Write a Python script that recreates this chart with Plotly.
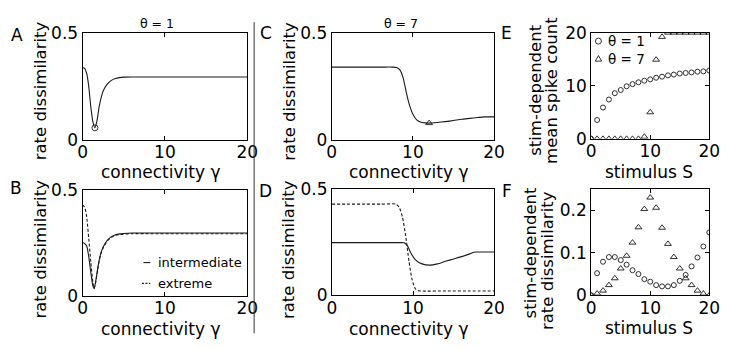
import plotly.graph_objects as go

W, H = 732, 348
FONT = "DejaVu Sans"

# ---------------- data ----------------
gamma_A = [0, 0.25, 0.5, 0.75, 1.0, 1.25, 1.5, 1.75, 2.0, 2.25, 2.5, 3.0, 3.5, 4.0, 4.5, 5.0, 6.0, 8.0, 12.0, 16.0, 20.0]
diss_A = [0.338, 0.334, 0.31, 0.25, 0.155, 0.085, 0.056, 0.088, 0.152, 0.196, 0.228, 0.26, 0.278, 0.287, 0.291, 0.293, 0.294, 0.294, 0.294, 0.294, 0.294]
min_A_gamma = [1.5]
min_A_diss = [0.056]

gamma_B = [0, 0.25, 0.5, 0.75, 1.0, 1.25, 1.4, 1.6, 1.8, 2.0, 2.25, 2.5, 3.0, 3.5, 4.0, 4.5, 5.0, 6.0, 8.0, 12.0, 16.0, 20.0]
inter_B = [0.252, 0.246, 0.235, 0.185, 0.11, 0.048, 0.033, 0.07, 0.12, 0.165, 0.205, 0.23, 0.262, 0.279, 0.288, 0.292, 0.294, 0.296, 0.296, 0.296, 0.296, 0.296]
extreme_B = [0.429, 0.418, 0.372, 0.27, 0.16, 0.065, 0.035, 0.065, 0.115, 0.16, 0.2, 0.226, 0.258, 0.276, 0.285, 0.289, 0.291, 0.293, 0.293, 0.293, 0.293, 0.293]

gamma_C = [0, 2, 4, 6, 7.5, 8.0, 8.4, 8.8, 9.2, 9.6, 10.0, 10.5, 11.0, 11.5, 12.0, 13.0, 14.0, 15.0, 16.0, 17.0, 18.0, 18.8, 20.0]
diss_C = [0.34, 0.34, 0.34, 0.34, 0.34, 0.338, 0.327, 0.29, 0.22, 0.16, 0.12, 0.092, 0.082, 0.079, 0.078, 0.081, 0.085, 0.09, 0.096, 0.1, 0.104, 0.107, 0.107]
min_C_gamma = [12.0]
min_C_diss = [0.078]

gamma_D_int = [0, 2, 4, 6, 8.5, 8.9, 9.3, 9.7, 10.3, 11.1, 12.1, 13.0, 14.0, 15.0, 16.0, 17.0, 17.5, 18.0, 20.0]
inter_D = [0.248, 0.248, 0.248, 0.248, 0.248, 0.247, 0.234, 0.201, 0.167, 0.148, 0.142, 0.148, 0.16, 0.171, 0.182, 0.195, 0.203, 0.204, 0.204]
gamma_D_ext = [0, 2, 4, 6, 7.9, 8.3, 8.7, 9.1, 9.5, 9.9, 10.3, 10.7, 11.2, 14.0, 17.0, 20.0]
extreme_D = [0.429, 0.429, 0.429, 0.429, 0.429, 0.414, 0.367, 0.278, 0.16, 0.071, 0.03, 0.021, 0.02, 0.02, 0.02, 0.02]

stim = [0, 1, 2, 3, 4, 5, 6, 7, 8, 9, 10, 11, 12, 13, 14, 15, 16, 17, 18, 19, 20]
count_t1 = [0, 3.55, 5.9, 7.4, 8.6, 9.2, 9.9, 10.3, 10.65, 10.95, 11.2, 11.5, 11.7, 11.95, 12.1, 12.3, 12.4, 12.5, 12.65, 12.7, 12.85]
count_t7 = [0, 0, 0, 0, 0, 0, 0, 0, 0, 0.4, 5.0, 14.9, 19.2, 20, 20, 20, 20, 20, 20, 20, 20]
sdiss_t1 = [0, 0.052, 0.079, 0.090, 0.090, 0.083, 0.072, 0.059, 0.050, 0.038, 0.032, 0.024, 0.021, 0.021, 0.024, 0.034, 0.048, 0.068, 0.089, 0.115, 0.148]
sdiss_t7 = [0, 0.004, 0.011, 0.024, 0.040, 0.063, 0.093, 0.124, 0.160, 0.203, 0.230, 0.206, 0.159, 0.121, 0.090, 0.063, 0.040, 0.024, 0.011, 0.004, 0]

x_ticks = [0, 10, 20]
# ---------------- layout geometry (pixels) ----------------
boxes = {
    "A": (79.3, 247.7, 24.3, 137.7),
    "B": (79.3, 247.7, 190.7, 303.3),
    "C": (334.0, 500.0, 24.3, 137.7),
    "D": (334.3, 500.0, 190.0, 302.7),
    "E": (599.3, 720.0, 24.0, 136.7),
    "F": (599.3, 720.0, 190.0, 302.7),
}
order = ["A", "B", "C", "D", "E", "F"]

fig = go.Figure()
LC = "#1a1a1a"

def ax_name(i):
    return ("x" if i == 0 else f"x{i+1}"), ("y" if i == 0 else f"y{i+1}")

def add_line(i, x, y, dash="solid", w=1.1):
    xa, ya = ax_name(i)
    fig.add_trace(go.Scatter(x=x, y=y, mode="lines", xaxis=xa, yaxis=ya,
                             line=dict(color=LC, width=w, dash=dash, shape="spline", smoothing=0.6),
                             showlegend=False, hoverinfo="skip"))

def add_markers(i, x, y, symbol, size):
    xa, ya = ax_name(i)
    fig.add_trace(go.Scatter(x=x, y=y, mode="markers", xaxis=xa, yaxis=ya,
                             marker=dict(symbol=symbol, size=size, color=LC, line=dict(color=LC, width=0.9)),
                             showlegend=False, hoverinfo="skip"))

add_line(0, gamma_A, diss_A)
add_markers(0, min_A_gamma, min_A_diss, "circle-open", 6)
add_line(1, gamma_B, inter_B)
add_line(1, gamma_B, extreme_B, dash="3px,2px")
add_line(2, gamma_C, diss_C)
add_markers(2, min_C_gamma, min_C_diss, "triangle-up-open", 6)
add_line(3, gamma_D_int, inter_D)
add_line(3, gamma_D_ext, extreme_D, dash="3px,2px")
add_markers(4, stim, count_t1, "circle-open", 5)
add_markers(4, stim, count_t7, "triangle-up-open", 6)
add_markers(5, stim, sdiss_t1, "circle-open", 5)
add_markers(5, stim, sdiss_t7, "triangle-up-open", 6)

yinfo = {
    "A": ([0, 0.5], [0, 0.5], ["0", "0.5"]),
    "B": ([0, 0.5], [0, 0.5], ["0", "0.5"]),
    "C": ([0, 0.5], [0, 0.5], ["0", "0.5"]),
    "D": ([0, 0.5], [0, 0.5], ["0", "0.5"]),
    "E": ([0, 20], [0, 10, 20], ["0", "10", "20"]),
    "F": ([0, 0.25], [0, 0.1, 0.2], ["0", "0.1", "0.2"]),
}

common = dict(showline=True, linecolor="black", linewidth=1, mirror="allticks",
              ticks="inside", ticklen=4, tickwidth=1, tickcolor="black",
              showgrid=False, zeroline=False,
              tickfont=dict(family=FONT, size=17, color="black"))

layout = {}
for i, k in enumerate(order):
    x0, x1, y0, y1 = boxes[k]
    xa, ya = ax_name(i)
    xkey = "xaxis" if i == 0 else f"xaxis{i+1}"
    ykey = "yaxis" if i == 0 else f"yaxis{i+1}"
    yr, yt, ytt = yinfo[k]
    layout[xkey] = dict(domain=[x0 / W, x1 / W], range=[0, 20], anchor=ya,
                        tickvals=x_ticks, ticktext=[str(v) for v in x_ticks],
                        ticklabelstandoff=-3, **common)
    layout[ykey] = dict(domain=[1 - y1 / H, 1 - y0 / H], range=yr, anchor=xa,
                        tickvals=yt, ticktext=ytt, **common)

def ann(text, x, y, size, angle=0, xanchor="center", yanchor="middle"):
    return dict(text=text, x=x / W, y=1 - y / H, xref="paper", yref="paper", showarrow=False,
                font=dict(family=FONT, size=size, color="black"), textangle=angle,
                xanchor=xanchor, yanchor=yanchor, borderpad=0)

TS = 16.5
annotations = [
    ann("A", 12, 26, 17), ann("B", 11, 189, 17), ann("C", 266.5, 24, 17),
    ann("D", 266.5, 192, 17), ann("E", 513, 24, 17), ann("F", 513, 192.5, 17),
    ann("θ = 1", 155, 14, 12.5), ann("θ = 7", 405, 14, 12.5),
    ann("rate dissimilarity", 36, 86, TS, -90), ann("rate dissimilarity", 36, 254, TS, -90),
    ann("rate dissimilarity", 290, 86, TS, -90), ann("rate dissimilarity", 290, 254, TS, -90),
    ann("stim-dependent", 541.5, 85, TS, -90), ann("mean spike count", 558, 85, TS, -90),
    ann("stim-dependent", 537, 258, TS, -90), ann("rate dissimilarity", 554.5, 266, TS, -90),
    ann("connectivity γ", 159, 172, 17), ann("connectivity γ", 159, 338, 17),
    ann("connectivity γ", 412.5, 172, 17), ann("connectivity γ", 412.5, 338, 17),
    ann("stimulus S", 658.5, 171.5, 17), ann("stimulus S", 658.5, 337.5, 17),
    ann("intermediate", 155, 268, 13, xanchor="left"), ann("extreme", 155, 290, 13, xanchor="left"),
    ann("θ = 1", 615.5, 33, 13.5, xanchor="left"), ann("θ = 7", 615.5, 51.5, 13.5, xanchor="left"),
]

shapes = [
    dict(type="line", xref="paper", yref="paper", x0=254.7 / W, x1=254.7 / W,
         y0=1 - 13 / H, y1=1 - 343 / H, line=dict(color="#333", width=1)),
    dict(type="line", xref="paper", yref="paper", x0=141.5 / W, x1=148.5 / W,
         y0=1 - 268 / H, y1=1 - 268 / H, line=dict(color=LC, width=1.1)),
    dict(type="line", xref="paper", yref="paper", x0=140.0 / W, x1=148.5 / W,
         y0=1 - 290 / H, y1=1 - 290 / H, line=dict(color=LC, width=1.1, dash="2px,1.5px")),
    dict(type="circle", xref="paper", yref="paper", xsizemode="pixel", ysizemode="pixel",
         xanchor=606.7 / W, yanchor=1 - 33 / H, x0=-3, x1=3, y0=-3, y1=3,
         line=dict(color=LC, width=0.9)),
    dict(type="path", xref="paper", yref="paper", xsizemode="pixel", ysizemode="pixel",
         xanchor=606.7 / W, yanchor=1 - 51.5 / H, path="M -3.2,-2.6 L 3.2,-2.6 L 0,3 Z",
         line=dict(color=LC, width=0.9)),
]

fig.update_layout(width=W, height=H, margin=dict(l=0, r=0, t=0, b=0),
                  paper_bgcolor="white", plot_bgcolor="white", showlegend=False,
                  annotations=annotations, shapes=shapes, **layout)

fig.write_html("out.html")
